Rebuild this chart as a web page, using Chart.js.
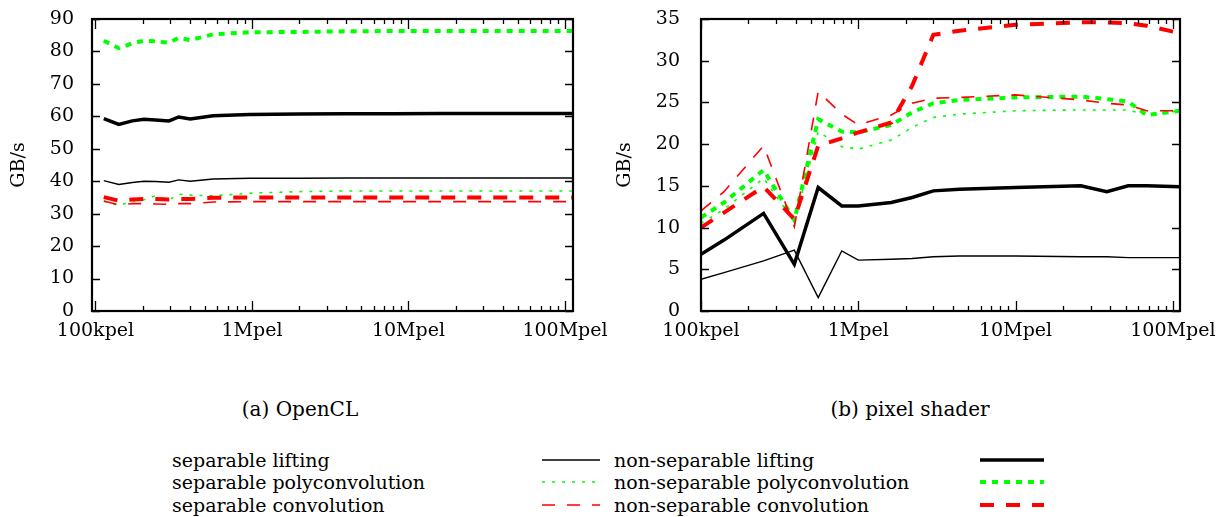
<!DOCTYPE html>
<html>
<head>
<meta charset="utf-8">
<title>GB/s</title>
<script src="https://cdn.jsdelivr.net/npm/chart.js@4.4.1/dist/chart.umd.min.js"></script>
<style>
  body { margin:0; background:#fff; width:1220px; height:517px; position:relative; overflow:hidden; font-family:"DejaVu Serif", serif; color:#000; }
  .box { position:absolute; top:0; height:350px; }
  #boxA { left:0; width:620px; }
  #boxB { left:600px; width:625px; }
  .cap { position:absolute; top:397px; font-size:20px; text-align:center; }
  .leg { position:absolute; font-size:19px; line-height:22px; white-space:nowrap; }
  svg.sample { position:absolute; overflow:visible; }
</style>
</head>
<body>
<div class="box" id="boxA"><canvas id="opencl"></canvas></div>
<div class="box" id="boxB"><canvas id="shader"></canvas></div>
<div class="cap" style="left:200px;width:200px">(a) OpenCL</div>
<div class="cap" style="left:800px;width:220px">(b) pixel shader</div>
<div id="legend"></div>

<script>
// x values in pixels, y in GB/s
var xTickValues = [1e5, 1e6, 1e7, 1e8];
var xTickLabels = ['100kpel', '1Mpel', '10Mpel', '100Mpel'];

var keyNames = ['separable lifting', 'non-separable lifting',
  'separable polyconvolution', 'non-separable polyconvolution',
  'separable convolution', 'non-separable convolution'];

// (a) OpenCL
var xOpencl = [113e3, 141e3, 172e3, 204e3, 242e3, 295e3, 340e3, 403e3, 565e3, 968e3, 2e6, 4e6, 8e6, 16e6, 32e6, 64e6, 112e6];
var openclSepLifting    = [40.2, 39.0, 39.6, 40.0, 39.9, 39.7, 40.4, 40.0, 40.7, 40.9, 40.9, 41.0, 41.0, 41.0, 41.0, 41.0, 41.0];
var openclNonSepLifting = [59.3, 57.5, 58.6, 59.1, 58.9, 58.6, 59.8, 59.2, 60.2, 60.6, 60.7, 60.8, 60.8, 60.9, 60.9, 60.9, 60.9];
var openclSepPoly       = [33.8, 32.5, 33.8, 34.3, 35.5, 34.2, 36.0, 35.7, 35.5, 36.3, 36.8, 37.0, 37.0, 37.0, 37.0, 37.0, 37.0];
var openclNonSepPoly    = [83.3, 81.0, 82.5, 83.3, 83.1, 82.7, 84.2, 83.5, 85.3, 85.9, 86.0, 86.2, 86.3, 86.3, 86.3, 86.3, 86.3];
var openclSepConv       = [33.9, 32.7, 33.1, 33.1, 33.0, 32.9, 33.1, 33.1, 33.6, 33.7, 33.7, 33.7, 33.7, 33.7, 33.7, 33.7, 33.7];
var openclNonSepConv    = [35.1, 34.0, 34.4, 34.5, 34.5, 34.4, 34.5, 34.5, 34.9, 35.0, 35.0, 35.0, 35.0, 35.0, 35.0, 35.0, 35.0];

// (b) pixel shader
var xShader = [100e3, 140e3, 250e3, 392e3, 556e3, 785e3, 1.0e6, 1.62e6, 2.2e6, 3.0e6, 4.4e6, 10e6, 26e6, 38e6, 52e6, 68e6, 111e6];
var shaderSepLifting    = [3.8, 4.6, 6.0, 7.3, 1.6, 7.2, 6.1, 6.2, 6.3, 6.5, 6.6, 6.6, 6.5, 6.5, 6.4, 6.4, 6.4];
var shaderNonSepLifting = [6.8, 8.5, 11.7, 5.6, 14.8, 12.6, 12.6, 13.0, 13.6, 14.4, 14.6, 14.8, 15.0, 14.3, 15.0, 15.0, 14.9];
var shaderSepPoly       = [10.5, 12.2, 15.9, 10.7, 21.5, 19.7, 19.4, 20.5, 22.0, 23.2, 23.6, 24.0, 24.1, 24.1, 24.1, 23.5, 24.0];
var shaderNonSepPoly    = [11.2, 13.0, 16.9, 10.9, 23.0, 21.5, 21.4, 22.3, 23.8, 24.9, 25.3, 25.6, 25.7, 25.4, 25.1, 23.5, 24.0];
var shaderSepConv       = [12.0, 14.3, 19.8, 10.1, 26.3, 23.6, 22.3, 23.5, 24.9, 25.5, 25.6, 25.9, 25.3, 24.9, 24.7, 24.0, 24.0];
var shaderNonSepConv    = [10.0, 11.8, 14.9, 11.0, 19.8, 20.7, 21.4, 22.6, 27.0, 33.1, 33.6, 34.3, 34.6, 34.6, 34.5, 34.2, 33.3];

var styles = [
  { color: '#000000', width: 1.4, dash: [] },
  { color: '#000000', width: 3.5, dash: [] },
  { color: '#00ff00', width: 1.6, dash: [3, 7] },
  { color: '#00ff00', width: 4, dash: [6, 6] },
  { color: '#ff0000', width: 1.6, dash: [13, 12] },
  { color: '#ff0000', width: 4, dash: [14, 12] }
];

var frameTicks = {
  id: 'frameTicks',
  afterDraw: function(chart) {
    var ctx = chart.ctx, a = chart.chartArea;
    var xs = chart.scales.x, ys = chart.scales.y;
    ctx.save();
    ctx.strokeStyle = '#000';
    ctx.lineWidth = 1.3;
    ctx.beginPath();
    ys.ticks.forEach(function(t) {
      var py = Math.round(ys.getPixelForValue(t.value)) + 0.5;
      ctx.moveTo(a.left, py); ctx.lineTo(a.left + 8, py);
      ctx.moveTo(a.right, py); ctx.lineTo(a.right - 8, py);
    });
    for (var d = 1e4; d <= 1e8; d *= 10) {
      for (var m = 1; m < 10; m++) {
        var v = d * m;
        if (v < xs.min || v > xs.max) continue;
        var px = Math.round(xs.getPixelForValue(v)) + 0.5;
        var len = m === 1 ? 10 : 5;
        ctx.moveTo(px, a.bottom); ctx.lineTo(px, a.bottom - len);
        ctx.moveTo(px, a.top); ctx.lineTo(px, a.top + len);
      }
    }
    ctx.stroke();
    ctx.lineWidth = 2.2;
    ctx.strokeRect(a.left, a.top, a.right - a.left, a.bottom - a.top);
    ctx.restore();
  }
};

function makeChart(id, xs, series, o) {
  var datasets = series.map(function(ys, i) {
    return {
      label: keyNames[i],
      data: ys.map(function(y, j) { return { x: xs[j], y: y }; }),
      borderColor: styles[i].color,
      borderWidth: styles[i].width,
      borderDash: styles[i].dash,
      borderCapStyle: 'butt',
      borderJoinStyle: 'miter',
      pointRadius: 0,
      tension: 0,
      fill: false,
      order: 5 - i
    };
  });
  var font = { family: 'DejaVu Serif', size: 19 };
  return new Chart(document.getElementById(id), {
    type: 'line',
    data: { datasets: datasets },
    options: {
      responsive: true,
      maintainAspectRatio: false,
      animation: false,
      layout: { padding: { left: 0, right: o.padRight, top: 19, bottom: 0 } },
      plugins: { legend: { display: false }, tooltip: { enabled: false } },
      scales: {
        x: {
          type: 'logarithmic',
          min: o.xMin, max: o.xMax,
          grid: { display: false, drawTicks: false },
          border: { display: false },
          afterBuildTicks: function(axis) {
            axis.ticks = xTickValues.map(function(v) { return { value: v }; });
          },
          afterFit: function(axis) {
            axis.height = 39;
            axis.paddingLeft = 0;
            axis.paddingRight = 0;
          },
          ticks: {
            autoSkip: false, maxRotation: 0, padding: 9,
            color: '#000', font: font,
            callback: function(v) { return xTickLabels[xTickValues.indexOf(v)]; }
          }
        },
        y: {
          min: 0, max: o.yMax,
          grid: { display: false, drawTicks: false },
          border: { display: false },
          afterFit: function(axis) {
            axis.width = o.yWidth;
            axis.paddingTop = 0;
            axis.paddingBottom = 0;
          },
          ticks: { stepSize: o.yStep, padding: o.tickPad, color: '#000', font: font },
          title: { display: true, text: 'GB/s', color: '#000', font: font, padding: { top: o.titlePad, bottom: 0 } }
        }
      }
    },
    plugins: [frameTicks]
  });
}

makeChart('opencl', xOpencl,
  [openclSepLifting, openclNonSepLifting, openclSepPoly, openclNonSepPoly, openclSepConv, openclNonSepConv],
  { xMin: 95000, xMax: 1.125e8, yMax: 90, yStep: 10, yWidth: 92, padRight: 47, tickPad: 18, titlePad: 8 });

makeChart('shader', xShader,
  [shaderSepLifting, shaderNonSepLifting, shaderSepPoly, shaderNonSepPoly, shaderSepConv, shaderNonSepConv],
  { xMin: 1e5, xMax: 1.11e8, yMax: 35, yStep: 5, yWidth: 101, padRight: 45, tickPad: 21, titlePad: 14 });

// key below the plots, laid out like the gnuplot one
var legend = document.getElementById('legend');
var rowY = [460, 482, 505];
function addText(txt, x, y) {
  var d = document.createElement('div');
  d.className = 'leg';
  d.style.left = x + 'px';
  d.style.top = (y - 11) + 'px';
  d.textContent = txt;
  legend.appendChild(d);
}
function addSample(st, x1, x2, y) {
  var ns = 'http://www.w3.org/2000/svg';
  var s = document.createElementNS(ns, 'svg');
  s.setAttribute('class', 'sample');
  s.setAttribute('width', x2 - x1);
  s.setAttribute('height', 10);
  s.style.left = x1 + 'px';
  s.style.top = (y - 5) + 'px';
  var l = document.createElementNS(ns, 'line');
  l.setAttribute('x1', 0); l.setAttribute('x2', x2 - x1);
  l.setAttribute('y1', 5); l.setAttribute('y2', 5);
  l.setAttribute('stroke', st.color);
  l.setAttribute('stroke-width', st.width);
  if (st.dash.length) l.setAttribute('stroke-dasharray', st.dash.join(' '));
  s.appendChild(l);
  legend.appendChild(s);
}
for (var r = 0; r < 3; r++) {
  addText(keyNames[2 * r], 172, rowY[r]);
  addSample(styles[2 * r], 542, 600, rowY[r]);
  addText(keyNames[2 * r + 1], 614, rowY[r]);
  addSample(styles[2 * r + 1], 980, 1044, rowY[r]);
}
</script>
</body>
</html>
